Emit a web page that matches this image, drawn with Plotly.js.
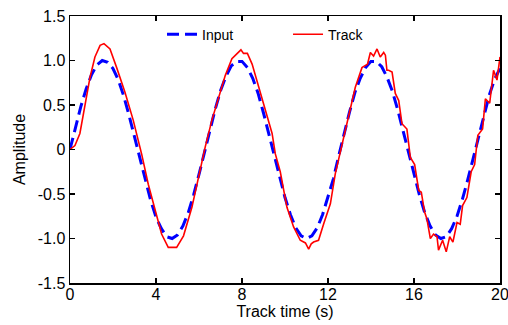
<!DOCTYPE html>
<html>
<head>
<meta charset="utf-8">
<script src="https://cdn.plot.ly/plotly-3.0.1.min.js"></script>
<style>
html,body{margin:0;padding:0;background:#fff;}
#chart{width:508px;height:325px;}
</style>
</head>
<body>
<div id="chart"></div>
<script>
// Input signal (blue dashed)
const inputTime = [0,0.25,0.5,0.75,1,1.25,1.5,1.75,2,2.25,2.5,2.75,3,3.25,3.5,3.75,4,4.25,4.5,4.75,5,5.25,5.5,5.75,6,6.25,6.5,6.75,7,7.25,7.5,7.75,8,8.25,8.5,8.75,9,9.25,9.5,9.75,10,10.25,10.5,10.75,11,11.25,11.5,11.75,12,12.25,12.5,12.75,13,13.25,13.5,13.75,14,14.25,14.5,14.75,15,15.25,15.5,15.75,16,16.25,16.5,16.75,17,17.25,17.5,17.75,18,18.25,18.5,18.75,19,19.25,19.5,19.75,20];
const inputAmp = [0,0.25,0.48,0.68,0.84,0.95,1.00,0.98,0.91,0.78,0.60,0.38,0.14,-0.11,-0.35,-0.57,-0.76,-0.89,-0.98,-1.00,-0.96,-0.86,-0.71,-0.51,-0.28,-0.03,0.22,0.45,0.66,0.82,0.94,0.99,0.99,0.92,0.80,0.63,0.41,0.17,-0.08,-0.32,-0.54,-0.73,-0.88,-0.97,-1.00,-0.97,-0.88,-0.73,-0.54,-0.33,-0.07,0.18,0.42,0.64,0.80,0.92,0.99,0.99,0.93,0.81,0.65,0.44,0.20,-0.05,-0.29,-0.51,-0.71,-0.86,-0.96,-1.00,-0.98,-0.89,-0.75,-0.56,-0.34,-0.10,0.15,0.39,0.61,0.79,0.91];

// Track signal (red solid)
const trackTime = [0,0.23,0.46,0.70,0.93,1.16,1.40,1.58,1.86,2.17,2.56,2.94,3.33,3.64,3.95,4.26,4.57,4.75,4.96,5.28,5.67,5.98,6.29,6.60,6.91,7.22,7.53,7.84,7.95,8.07,8.25,8.47,8.77,9.08,9.40,9.55,9.78,10.09,10.40,10.71,10.95,11.10,11.22,11.33,11.56,11.80,12.11,12.34,12.65,12.96,13.27,13.58,13.84,13.97,14.12,14.28,14.43,14.59,14.67,14.74,14.82,14.98,15.13,15.29,15.44,15.67,15.83,16.03,16.22,16.34,16.49,16.60,16.76,16.91,17.07,17.14,17.33,17.50,17.66,17.81,18.00,18.15,18.26,18.46,18.66,18.82,18.97,19.19,19.32,19.52,19.70,19.86,20.0];
const trackAmp = [0,0.045,0.18,0.51,0.81,1.04,1.17,1.19,1.13,0.92,0.64,0.33,-0.05,-0.39,-0.67,-0.95,-1.10,-1.10,-1.10,-0.97,-0.65,-0.31,0.03,0.33,0.59,0.83,1.02,1.10,1.12,1.08,1.08,0.96,0.70,0.44,0.18,-0.05,-0.25,-0.65,-0.87,-1.02,-1.05,-1.12,-1.06,-1.04,-1.02,-0.835,-0.61,-0.27,0.06,0.40,0.70,0.92,0.96,1.09,1.05,1.13,1.04,1.09,1.06,0.89,0.89,0.87,0.63,0.55,0.29,0.23,-0.09,-0.17,-0.46,-0.48,-0.70,-0.78,-1.00,-0.95,-0.98,-1.13,-1.02,-1.15,-0.98,-1.04,-0.82,-0.84,-0.63,-0.54,-0.25,-0.17,0.16,0.23,0.57,0.52,0.89,0.78,1.04];

const xTicks = [0,4,8,12,16,20];
const yTickVals = [-1.5,-1,-0.5,0,0.5,1,1.5];
const yTickText = ["-1.5","-1.0","-0.5","0","0.5","1.0","1.5"];

const FONT = "Liberation Sans, Arial, sans-serif";

const traces = [
  {x: inputTime, y: inputAmp, name: "Input", type: "scatter", mode: "lines",
   line: {color: "#0000ff", width: 3, dash: "12px,6px"}},
  {x: trackTime, y: trackAmp, name: "Track", type: "scatter", mode: "lines",
   line: {color: "#ff0000", width: 1.6}}
];

const axisCommon = {
  showline: true, linecolor: "#000", linewidth: 1.5, mirror: "ticks",
  ticks: "inside", ticklen: 5, tickwidth: 1.5, tickcolor: "#000",
  showgrid: false, zeroline: false, ticklabeloverflow: "allow",
  tickfont: {family: FONT, size: 16, color: "#000"}
};

const layout = {
  width: 508, height: 325,
  margin: {l: 70, r: 8, t: 16, b: 42},
  paper_bgcolor: "#fff", plot_bgcolor: "#fff",
  font: {family: FONT, size: 16, color: "#000"},
  showlegend: true,
  legend: {orientation: "h", x: 0.214, y: 0.93, xanchor: "left", yanchor: "middle",
           bgcolor: "rgba(0,0,0,0)", borderwidth: 0,
           font: {family: FONT, size: 14, color: "#000"},
           entrywidth: 81, entrywidthmode: "pixels"},
  xaxis: Object.assign({}, axisCommon, {
    range: [0, 20], tickvals: xTicks, ticktext: xTicks.map(String),
    ticklabelstandoff: -4,
    title: {text: "Track time (s)", font: {family: FONT, size: 16, color: "#000"}, standoff: 1}
  }),
  yaxis: Object.assign({}, axisCommon, {
    range: [-1.5, 1.5], tickvals: yTickVals, ticktext: yTickText,
    title: {text: "Amplitude", font: {family: FONT, size: 16, color: "#000"}, standoff: 8}
  })
};

Plotly.newPlot("chart", traces, layout, {staticPlot: true, displayModeBar: false});
</script>
</body>
</html>
